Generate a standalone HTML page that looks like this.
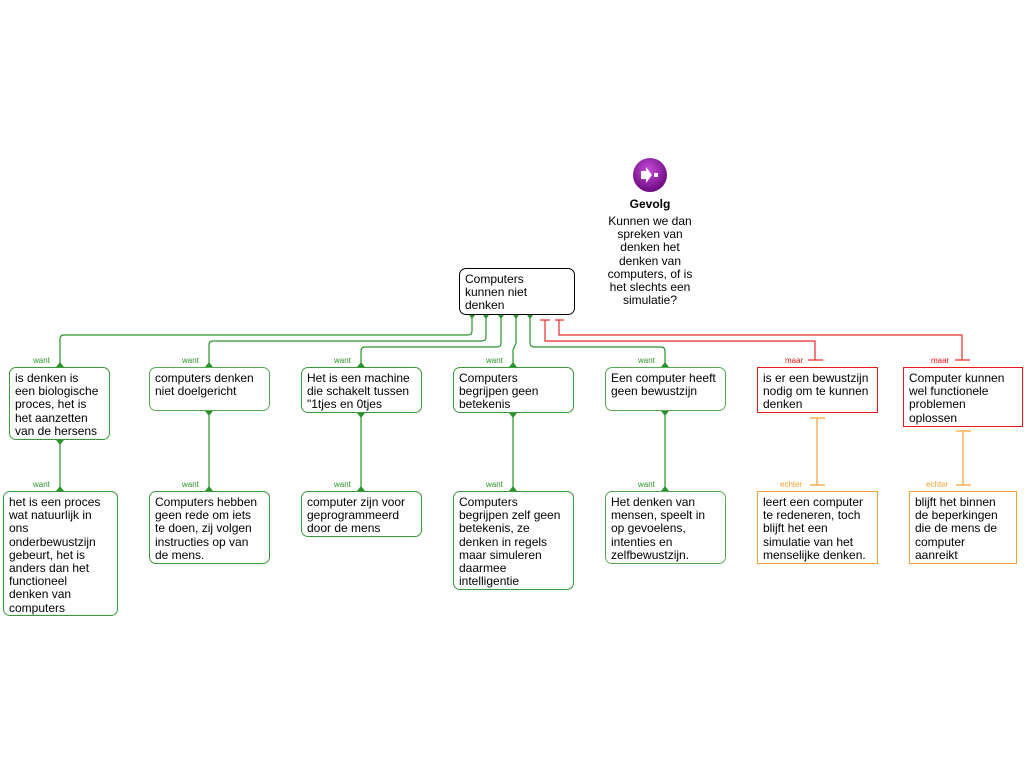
<!DOCTYPE html>
<html><head><meta charset="utf-8"><style>
body{margin:0;width:1024px;height:768px;background:#fff;position:relative;overflow:hidden;font-family:"Liberation Sans",Arial,sans-serif}
.b{position:absolute;box-sizing:border-box;border:1px solid #3a9a3a;border-radius:7px;background:#fff;font-size:12px;line-height:13.2px;color:#000;padding:4px 5px;white-space:nowrap}
.g{border-color:#55aa55}
.r{border-color:#e81818;border-radius:0}
.o{border-color:#f6a030;border-radius:0}
.k{border-color:#000}
.l{position:absolute;font-size:8px;line-height:9px}
svg{position:absolute;left:0;top:0}
</style></head><body>
<svg width="1024" height="768">
<g fill="none" stroke="#2a942a" stroke-width="1.2">
<path d="M472 315 V331 Q472 335 468 335 H64 Q60 335 60 339 V367"/>
<path d="M486 315 V337 Q486 341 482 341 H213 Q209 341 209 345 V367"/>
<path d="M501 315 V343 Q501 347 497 347 H365 Q361 347 361 351 V367"/>
<path d="M516 315 V343 L513 350 V367"/>
<path d="M530 315 V343 Q530 347 534 347 H661 Q665 347 665 351 V367"/>
<path d="M60 440 V491 M209 411 V491 M361 413 V491 M513 413 V491 M665 411 V491"/>
</g>
<g fill="#2a942a">
<path d="M469 315 h6 l-3 4z M483 315 h6 l-3 4z M498 315 h6 l-3 4z M513 315 h6 l-3 4z M527 315 h6 l-3 4z"/>
<path d="M56 367 h8 l-4 -5z M205 367 h8 l-4 -5z M357 367 h8 l-4 -5z M509 367 h8 l-4 -5z M661 367 h8 l-4 -5z"/>
<path d="M56 491 h8 l-4 -5z M205 491 h8 l-4 -5z M357 491 h8 l-4 -5z M509 491 h8 l-4 -5z M661 491 h8 l-4 -5z"/>
<path d="M56 440 h8 l-4 5z M205 411 h8 l-4 5z M357 413 h8 l-4 5z M509 413 h8 l-4 5z M661 411 h8 l-4 5z"/>
</g>
<g fill="none" stroke="#ee2a2a" stroke-width="1.2">
<path d="M545 320 V341 H815 V360 M559 320 V335 H962 V360"/>
<path d="M540 320 H550 M555 320 H564 M808 360 H823 M955 360 H970"/>
</g>
<g fill="none" stroke="#f5a030" stroke-width="1.2">
<path d="M817 418 V485 M963 431 V485 M810 418 H825 M956 431 H971 M810 485 H825 M956 485 H971"/>
</g>
<defs><radialGradient id="pg" cx="45%" cy="35%" r="65%"><stop offset="0" stop-color="#c84ad8"/><stop offset="1" stop-color="#6a0a80"/></radialGradient></defs>
<circle cx="650" cy="175" r="17" fill="url(#pg)"/>
<path d="M641 171 h5 v-4 l6 8 l-6 8 v-4 h-5z" fill="#fff"/>
<rect x="654" y="173" width="4" height="4" fill="#fff"/>
</svg>
<div style="position:absolute;left:600px;top:197px;width:100px;text-align:center;font-size:12px;font-weight:bold">Gevolg</div>
<div style="position:absolute;left:590px;top:215px;width:120px;text-align:center;font-size:12px;line-height:13.2px">Kunnen we dan<br>spreken van<br>denken het<br>denken van<br>computers, of is<br>het slechts een<br>simulatie?</div>

<div class="b k" style="left:459px;top:268px;width:116px;height:47px">Computers<br>kunnen niet<br>denken</div>

<div class="l" style="left:33px;top:356px;color:#2a942a">want</div>
<div class="l" style="left:182px;top:356px;color:#2a942a">want</div>
<div class="l" style="left:334px;top:356px;color:#2a942a">want</div>
<div class="l" style="left:486px;top:356px;color:#2a942a">want</div>
<div class="l" style="left:638px;top:356px;color:#2a942a">want</div>
<div class="l" style="left:785px;top:356px;color:#e81818">maar</div>
<div class="l" style="left:931px;top:356px;color:#e81818">maar</div>
<div class="l" style="left:33px;top:480px;color:#2a942a">want</div>
<div class="l" style="left:182px;top:480px;color:#2a942a">want</div>
<div class="l" style="left:334px;top:480px;color:#2a942a">want</div>
<div class="l" style="left:486px;top:480px;color:#2a942a">want</div>
<div class="l" style="left:638px;top:480px;color:#2a942a">want</div>
<div class="l" style="left:780px;top:480px;color:#f5a030">echter</div>
<div class="l" style="left:926px;top:480px;color:#f5a030">echter</div>

<div class="b" style="left:9px;top:367px;width:101px;height:73px">is denken is<br>een biologische<br>proces, het is<br>het aanzetten<br>van de hersens</div>
<div class="b g" style="left:149px;top:367px;width:121px;height:44px">computers denken<br>niet doelgericht</div>
<div class="b" style="left:301px;top:367px;width:121px;height:46px">Het is een machine<br>die schakelt tussen<br>"1tjes en 0tjes</div>
<div class="b" style="left:453px;top:367px;width:121px;height:46px">Computers<br>begrijpen geen<br>betekenis</div>
<div class="b g" style="left:605px;top:367px;width:121px;height:44px">Een computer heeft<br>geen bewustzijn</div>
<div class="b r" style="left:757px;top:367px;width:121px;height:46px">is er een bewustzijn<br>nodig om te kunnen<br>denken</div>
<div class="b r" style="left:903px;top:367px;width:120px;height:60px">Computer kunnen<br>wel functionele<br>problemen<br>oplossen</div>

<div class="b" style="left:3px;top:491px;width:115px;height:125px">het is een proces<br>wat natuurlijk in<br>ons<br>onderbewustzijn<br>gebeurt, het is<br>anders dan het<br>functioneel<br>denken van<br>computers</div>
<div class="b" style="left:149px;top:491px;width:121px;height:73px">Computers hebben<br>geen rede om iets<br>te doen, zij volgen<br>instructies op van<br>de mens.</div>
<div class="b" style="left:301px;top:491px;width:121px;height:46px">computer zijn voor<br>geprogrammeerd<br>door de mens</div>
<div class="b" style="left:453px;top:491px;width:121px;height:99px">Computers<br>begrijpen zelf geen<br>betekenis, ze<br>denken in regels<br>maar simuleren<br>daarmee<br>intelligentie</div>
<div class="b g" style="left:605px;top:491px;width:121px;height:73px">Het denken van<br>mensen, speelt in<br>op gevoelens,<br>intenties en<br>zelfbewustzijn.</div>
<div class="b o" style="left:757px;top:491px;width:121px;height:73px">leert een computer<br>te redeneren, toch<br>blijft het een<br>simulatie van het<br>menselijke denken.</div>
<div class="b o" style="left:909px;top:491px;width:108px;height:73px">blijft het binnen<br>de beperkingen<br>die de mens de<br>computer<br>aanreikt</div>
</body></html>
